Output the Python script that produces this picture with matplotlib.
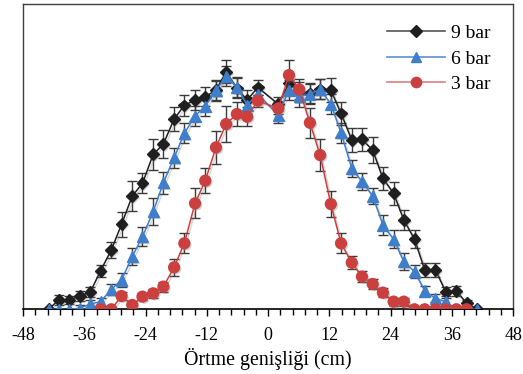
import numpy as np
import matplotlib
matplotlib.use("Agg")
import matplotlib.pyplot as plt
import matplotlib.patheffects as pe
from matplotlib.ticker import MultipleLocator

# Ölçüm noktaları (cm), merkezde (0) ölçüm yok
x_cm = [-43.0, -41.0, -38.9, -36.9, -34.8, -32.8, -30.7, -28.7, -26.6, -24.6,
        -22.5, -20.5, -18.4, -16.4, -14.3, -12.3, -10.2, -8.2, -6.1, -4.1, -2.0,
        2.0, 4.1, 6.1, 8.2, 10.2, 12.3, 14.3, 16.4, 18.4, 20.5,
        22.5, 24.6, 26.6, 28.7, 30.7, 32.8, 34.8, 36.9, 38.9, 41.0]

bar9 = [0.0, 2.8, 2.8, 4.0, 5.2, 11.6, 17.8, 25.5, 34.0, 37.8,
        46.5, 49.6, 57.1, 61.2, 62.8, 63.8, 65.8, 71.3, 66.3, 62.8, 66.6,
        61.6, 67.8, 65.3, 64.8, 66.0, 65.8, 58.8, 50.8, 51.0, 47.8,
        39.3, 34.8, 26.8, 21.0, 11.8, 11.8, 5.3, 5.5, 1.8, 0.0]
err9 = [0.0, 1.4, 1.3, 1.5, 1.4, 1.8, 2.5, 3.7, 4.4, 3.0,
        4.7, 4.2, 3.5, 3.2, 3.1, 2.8, 3.0, 3.4, 3.0, 3.0, 2.2,
        2.0, 2.5, 3.0, 3.0, 3.0, 3.5, 3.5, 3.5, 3.5, 4.0,
        3.5, 3.5, 3.0, 2.7, 2.0, 2.0, 1.4, 1.4, 1.0, 0.0]

bar6 = [0.0, 0.0, 0.0, 0.3, 1.6, 2.3, 6.0, 8.8, 15.8, 21.8,
        29.3, 38.0, 45.5, 52.8, 58.0, 61.0, 65.6, 70.0, 66.6, 61.3, 64.6,
        58.3, 65.8, 63.8, 64.6, 66.0, 61.6, 53.0, 42.3, 38.3, 34.0,
        25.3, 21.0, 14.3, 11.3, 5.5, 3.3, 2.3, 0.0, 0.0, 0.0]
err6 = [0.0, 0.0, 0.0, 1.0, 1.2, 1.2, 1.5, 2.0, 2.6, 2.8,
        4.0, 3.3, 3.0, 3.0, 3.0, 3.0, 3.0, 3.0, 3.0, 2.5, 2.0,
        2.3, 3.0, 3.0, 3.0, 3.0, 3.0, 3.0, 2.6, 2.5, 2.5,
        3.0, 2.7, 2.5, 2.0, 1.5, 1.2, 1.0, 0.0, 0.0, 0.0]

bar3 = [np.nan, np.nan, np.nan, np.nan, np.nan, 0.0, 0.0, 4.0, 1.3, 3.8,
        4.8, 6.8, 12.6, 19.8, 31.8, 38.6, 48.6, 55.6, 58.6, 57.8, 62.6,
        60.3, 70.3, 66.0, 56.0, 46.3, 31.6, 19.8, 14.0, 9.8, 7.6,
        5.0, 2.3, 2.3, 0.0, 0.0, 0.0, 0.0, 0.0, 0.0, np.nan]
err3 = [0.0, 0.0, 0.0, 0.0, 0.0, 0.0, 0.0, 1.3, 1.0, 1.0,
        1.3, 1.5, 2.5, 3.0, 4.5, 3.8, 5.0, 5.3, 3.7, 2.8, 1.8,
        1.8, 4.5, 3.0, 4.5, 4.8, 3.8, 3.0, 2.0, 1.7, 1.5,
        1.4, 1.2, 1.2, 0.0, 0.0, 0.0, 0.0, 0.0, 0.0, 0.0]


def draw_chart():
    plt.rcParams['font.family'] = ['Liberation Serif', 'DejaVu Serif']
    plt.rcParams['axes.unicode_minus'] = False

    fig = plt.figure(figsize=(5.23, 3.74), dpi=100)
    ax = fig.add_axes([0.044, 0.173, 0.937, 0.816])

    line_shadow = [pe.SimpleLineShadow(offset=(1.3, -1.3), shadow_color='gray', alpha=0.3),
                   pe.Normal()]
    mark_shadow = [pe.SimplePatchShadow(offset=(1.3, -1.3), shadow_rgbFace='gray', alpha=0.35),
                   pe.Normal()]

    series = [
        ("9 bar", bar9, err9, "#1f1f1f", "#555555", "D", 6.0),
        ("6 bar", bar6, err6, "#3f7ecb", "#5b8fd4", "^", 8.0),
        ("3 bar", bar3, err3, "#cc3f3f", "#d98080", "o", 7.8),
    ]

    x = np.array(x_cm)
    handles = []
    for name, vals, errs, color, line_color, marker, ms in series:
        y = np.array(vals)
        e = np.array(errs)
        ax.errorbar(x, y, yerr=e, fmt='none', ecolor='#3a3a3a',
                    elinewidth=1.0, capsize=3.3, capthick=1.0, zorder=2)
        ax.plot(x, y, color=color, lw=1.1, path_effects=line_shadow, zorder=3)
        ax.plot(x, y, ls='none', marker=marker, ms=ms,
                markerfacecolor=color, markeredgecolor=color,
                path_effects=mark_shadow, zorder=3)
        # legend handle with lighter line
        h, = ax.plot([], [], color=line_color, lw=1.2, marker=marker, ms=ms * 0.95,
                     markerfacecolor=color, markeredgecolor=color, label=name)
        handles.append(h)

    ax.set_xlim(-48, 48)
    ax.set_ylim(0, 91.6)
    ax.xaxis.set_major_locator(MultipleLocator(12))
    ax.xaxis.set_minor_locator(MultipleLocator(2.4))
    ax.set_yticks([])
    ax.tick_params(axis='x', which='major', direction='out', length=5,
                   width=1, labelsize=13, pad=7.5)
    ax.tick_params(axis='x', which='minor', direction='out', length=4, width=1)

    for side in ['left', 'top', 'right']:
        ax.spines[side].set_color('#404040')
        ax.spines[side].set_linewidth(1.0)
    ax.spines['bottom'].set_color('black')
    ax.spines['bottom'].set_linewidth(1.2)

    ax.set_xlabel("Örtme genişliği (cm)", fontsize=14.3, labelpad=3)

    ax.legend(handles=handles, loc='upper right', bbox_to_anchor=(0.99, 0.99),
              frameon=False, fontsize=14, handlelength=3.0, handletextpad=0.3,
              labelspacing=0.4, borderaxespad=0.5)

    plt.savefig("out.png", dpi=100)


if __name__ == "__main__":
    draw_chart()
